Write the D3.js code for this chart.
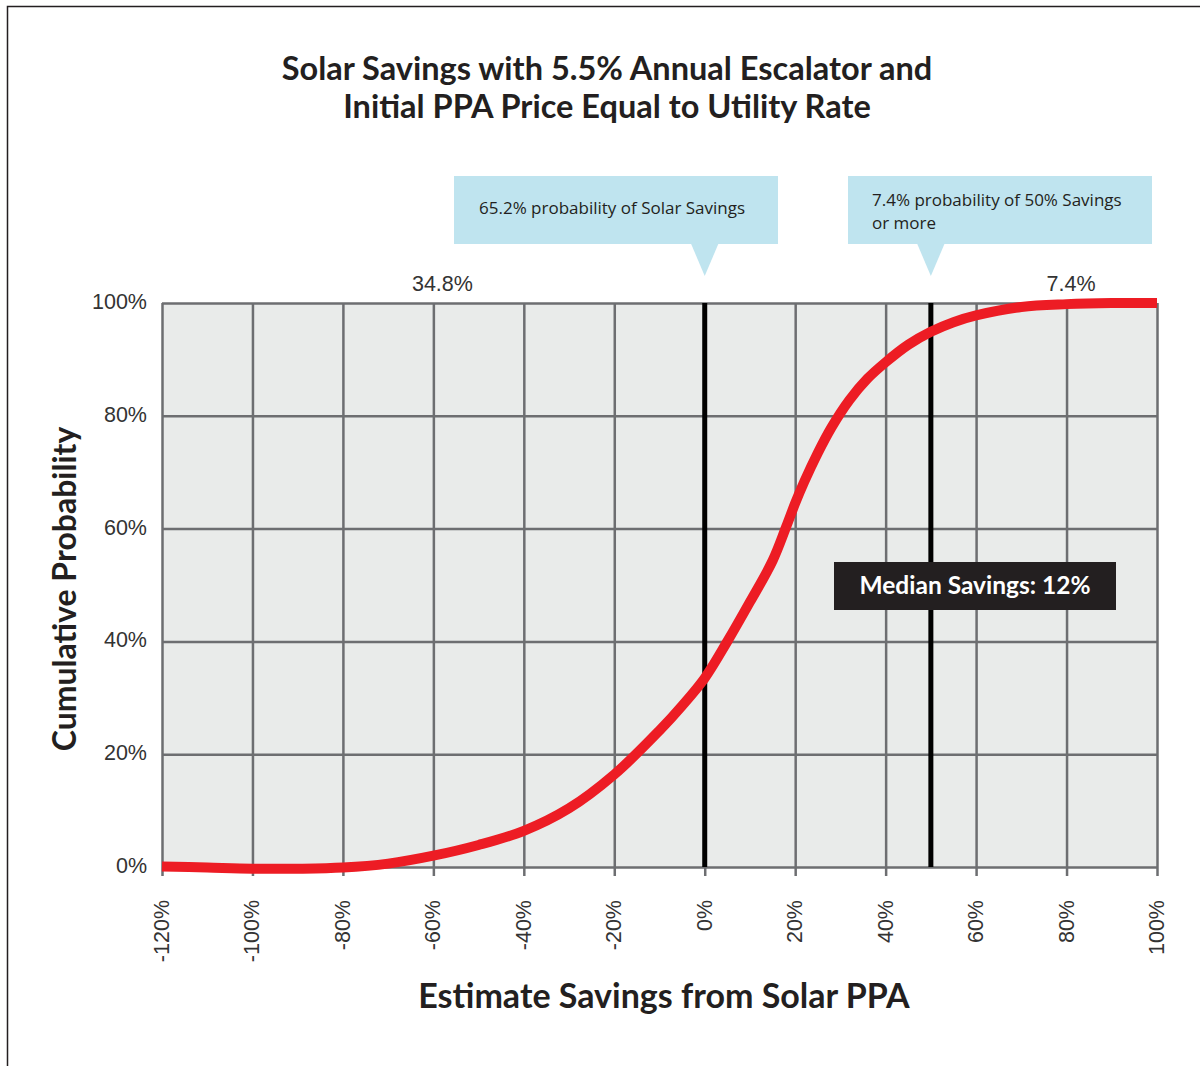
<!DOCTYPE html>
<html>
<head>
<meta charset="utf-8">
<script src="https://cdn.jsdelivr.net/npm/d3@7"></script>
<style>
  body { margin: 0; background: #fff; }
  svg { display: block; }
</style>
</head>
<body>
<svg id="chart"></svg>
<script>
// data
var savings = [-120, -110, -100, -90, -80, -70, -60, -50, -40, -30, -20, -10, -5, 0, 5, 10, 15, 18, 20, 22, 25, 28, 32, 36, 40, 45, 50, 55, 60, 70, 80, 90, 100];
var cumProb = [0.1, -0.1, -0.3, -0.3, -0.1, 0.6, 2.0, 3.9, 6.4, 10.4, 16.4, 24.2, 28.6, 33.5, 40.0, 47.0, 54.3, 60.3, 64.5, 68.3, 73.4, 77.9, 82.8, 86.6, 89.5, 92.6, 94.9, 96.6, 97.8, 99.3, 99.8, 100, 100];
var xTicks = [-120, -100, -80, -60, -40, -20, 0, 20, 40, 60, 80, 100];
var yTicks = [0, 20, 40, 60, 80, 100];
var markers = [0, 50];
var titleLines = ['Solar Savings with 5.5% Annual Escalator and', 'Initial PPA Price Equal to Utility Rate'];
var callouts = [
  { at: 0, lines: ['65.2% probability of Solar Savings'] },
  { at: 50, lines: ['7.4% probability of 50% Savings', 'or more'] }
];
var topLabels = [{ at: -58, text: '34.8%' }, { at: 81, text: '7.4%' }];
var medianText = 'Median Savings: 12%';

var W = 1200, H = 1066;
var svg = d3.select('#chart').attr('width', W).attr('height', H);

var pLeft = 162, pRight = 1157, pTop = 303, pBottom = 867;
var x = d3.scaleLinear().domain([-120, 100]).range([pLeft, pRight]);
var y = d3.scaleLinear().domain([0, 100]).range([pBottom, pTop]);

// outer frame
svg.append('path').attr('d', 'M7.5,1066 V6.5 H1200')
  .attr('fill', 'none').attr('stroke', '#231f20').attr('stroke-width', 1.5);

// title
svg.append('g').selectAll('text').data(titleLines).enter().append('text')
  .attr('x', 607).attr('y', function (d, i) { return 80 + i * 38; })
  .attr('text-anchor', 'middle')
  .style('font-family', 'Lato, sans-serif').style('font-weight', 700)
  .style('font-size', '32.5px').attr('fill', '#231f20')
  .text(function (d) { return d; });

// plot background
svg.append('rect').attr('x', pLeft).attr('y', pTop)
  .attr('width', pRight - pLeft).attr('height', pBottom - pTop).attr('fill', '#e9ebea');

// grid via axes
var gx = svg.append('g').attr('transform', 'translate(0,' + pBottom + ')')
  .call(d3.axisBottom(x).tickValues(xTicks).tickSizeInner(-(pBottom - pTop)).tickSizeOuter(0).tickFormat(''));
gx.selectAll('.tick line').attr('y1', 9);
var gy = svg.append('g').attr('transform', 'translate(' + pLeft + ',0)')
  .call(d3.axisLeft(y).tickValues(yTicks).tickSize(-(pRight - pLeft)).tickFormat(''));
svg.selectAll('.domain').remove();
svg.selectAll('.tick line').attr('stroke', '#6d6e71').attr('stroke-width', 2.5);

// x tick labels (rotated)
svg.append('g').selectAll('text').data(xTicks).enter().append('text')
  .attr('transform', function (d) { return 'translate(' + (x(d) + 7) + ',900) rotate(-90)'; })
  .attr('text-anchor', 'end')
  .style('font-family', '"Liberation Sans", Arial, sans-serif').style('font-size', '21.5px')
  .attr('fill', '#333')
  .text(function (d) { return d + '%'; });

// y tick labels
svg.append('g').selectAll('text').data(yTicks).enter().append('text')
  .attr('x', 147).attr('y', function (d) { return y(d) + 6; })
  .attr('text-anchor', 'end')
  .style('font-family', '"Liberation Sans", Arial, sans-serif').style('font-size', '21.5px')
  .attr('fill', '#333')
  .text(function (d) { return d + '%'; });

// marker lines
svg.append('g').selectAll('line').data(markers).enter().append('line')
  .attr('x1', function (d) { return x(d); }).attr('x2', function (d) { return x(d); })
  .attr('y1', pTop).attr('y2', pBottom)
  .attr('stroke', '#000').attr('stroke-width', 5);

// curve
var pts = savings.map(function (s, i) { return [s, cumProb[i]]; });
var line = d3.line().x(function (d) { return x(d[0]); }).y(function (d) { return y(d[1]); })
  .curve(d3.curveCatmullRom.alpha(0.5));
svg.append('path').datum(pts).attr('d', line)
  .attr('fill', 'none').attr('stroke', '#ed1c24').attr('stroke-width', 10);

// median box
svg.append('rect').attr('x', 834).attr('y', 562).attr('width', 282).attr('height', 48).attr('fill', '#231f20');
svg.append('text').attr('x', 975).attr('y', 594).attr('text-anchor', 'middle')
  .style('font-family', 'Lato, sans-serif').style('font-weight', 700).style('font-size', '24.5px')
  .attr('fill', '#fff').text(medianText);

// callouts
var boxes = [{ x0: 454, x1: 778 }, { x0: 848, x1: 1152 }];
callouts.forEach(function (c, i) {
  var b = boxes[i], tip = x(c.at);
  var g = svg.append('g');
  g.append('rect').attr('x', b.x0).attr('y', 176).attr('width', b.x1 - b.x0).attr('height', 68).attr('fill', '#bfe4ef');
  g.append('path').attr('d', 'M' + (tip - 14) + ',243 L' + tip + ',276 L' + (tip + 14) + ',243 Z').attr('fill', '#bfe4ef');
  var tx = i === 0 ? 479 : 872;
  var ty = i === 0 ? 214 : 206;
  g.selectAll('text').data(c.lines).enter().append('text')
    .attr('x', tx).attr('y', function (d, j) { return ty + j * 23; })
    .style('font-family', '"Open Sans", sans-serif').style('font-size', '17px')
    .attr('fill', '#231f20').text(function (d) { return d; });
});

// labels above plot
svg.append('g').selectAll('text').data(topLabels).enter().append('text')
  .attr('x', function (d) { return x(d.at); }).attr('y', 291).attr('text-anchor', 'middle')
  .style('font-family', '"Liberation Sans", Arial, sans-serif').style('font-size', '21.5px')
  .attr('fill', '#333').text(function (d) { return d.text; });

// axis titles
svg.append('text').attr('x', 664).attr('y', 1008).attr('text-anchor', 'middle')
  .style('font-family', 'Lato, sans-serif').style('font-weight', 700).style('font-size', '34px')
  .attr('fill', '#231f20').text('Estimate Savings from Solar PPA');
svg.append('text').attr('transform', 'translate(76,589) rotate(-90)').attr('text-anchor', 'middle')
  .style('font-family', 'Lato, sans-serif').style('font-weight', 700).style('font-size', '32px')
  .attr('fill', '#231f20').text('Cumulative Probability');
</script>
</body>
</html>
